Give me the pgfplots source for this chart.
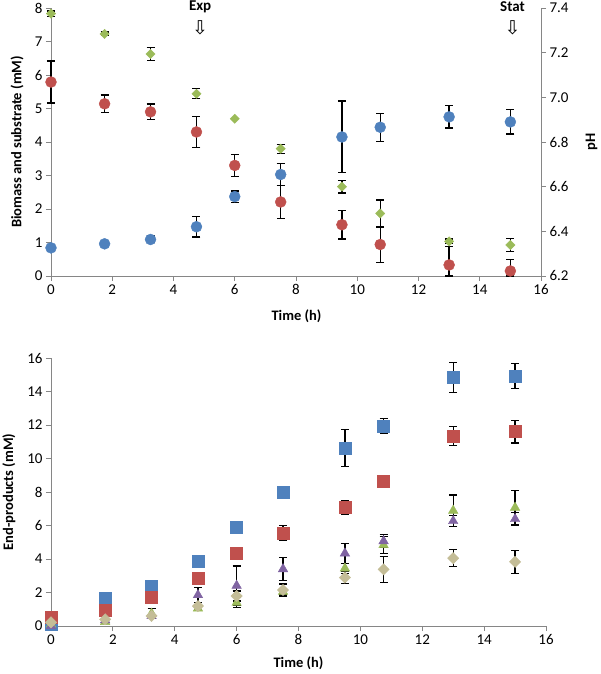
\documentclass[border=0pt]{standalone}
\usepackage{fontspec}
\setmainfont{Carlito}
\newfontfamily\symfont{DejaVu Sans}
\usepackage{pgfplots}
\usepackage{pgfplotstable}
\pgfplotsset{compat=1.18}
\definecolor{axgray}{RGB}{134,134,134}
\definecolor{xblue}{RGB}{79,129,189}
\definecolor{xred}{RGB}{192,80,77}
\definecolor{xgreen}{RGB}{155,187,89}
\definecolor{xpurple}{RGB}{128,100,162}
\definecolor{xtan}{RGB}{196,189,151}
% ---- top panel data (x, y, error plus, error minus) ----
\pgfplotstableread{
x y ep em
0 0.84 0.05 0.05
1.75 0.96 0.05 0.05
3.25 1.09 0.1 0.1
4.75 1.47 0.31 0.31
6 2.37 0.17 0.17
7.5 3.03 0.33 0.33
9.5 4.15 1.07 1.07
10.75 4.44 0.42 0.42
13 4.75 0.33 0.33
15 4.6 0.36 0.36
}\biomass
\pgfplotstableread{
x y ep em
0 5.79 0.63 0.63
1.75 5.14 0.26 0.26
3.25 4.9 0.23 0.23
4.75 4.3 0.47 0.47
6 3.3 0.33 0.33
7.5 2.21 0.49 0.49
9.5 1.53 0.43 0.43
10.75 0.94 0.54 0.54
13 0.33 0.55 0.33
15 0.15 0.35 0.15
}\substrate
\pgfplotstableread{
x y ep em
0 7.375 0.012 0.012
1.75 7.284 0.008 0.008
3.25 7.194 0.03 0.03
4.75 7.016 0.022 0.022
6 6.904 0 0
7.5 6.77 0.02 0.02
9.5 6.6 0.028 0.028
10.75 6.48 0.06 0.06
13 6.355 0.01 0.01
15 6.339 0.03 0.03
}\phdata
% ---- bottom panel data ----
\pgfplotstableread{
x y ep em
0 0.1 0 0
1.75 1.68 0.1 0.1
3.25 2.4 0.1 0.1
4.75 3.87 0.2 0.2
6 5.92 0.2 0.2
7.5 8.0 0.25 0.25
9.5 10.63 1.1 1.1
10.75 11.93 0.44 0.44
13 14.85 0.89 0.89
15 14.93 0.76 0.76
}\prodA
\pgfplotstableread{
x y ep em
0 0.55 0 0
1.75 0.95 0.1 0.1
3.25 1.73 0.38 0.38
4.75 2.84 0.2 0.2
6 4.37 0.2 0.2
7.5 5.55 0.45 0.45
9.5 7.07 0.4 0.4
10.75 8.64 0.1 0.1
13 11.36 0.57 0.57
15 11.6 0.67 0.67
}\prodB
\pgfplotstableread{
x y ep em
0 0.1 0 0
1.75 0.25 0 0
3.25 0.75 0.3 0.3
4.75 1.05 0.1 0.1
6 1.39 0.3 0.3
7.5 2.05 0.2 0.2
9.5 3.44 0.3 0.3
10.75 4.84 0.5 0.5
13 6.89 0.93 0.93
15 7.07 1.0 1.0
}\prodC
\pgfplotstableread{
x y ep em
0 0.0 0 0
1.75 0.35 0 0
3.25 0.6 0 0
4.75 1.85 0.45 0.45
6 2.41 1.17 1.17
7.5 3.4 0.68 0.68
9.5 4.34 0.6 0.6
10.75 5.07 0.4 0.4
13 6.27 0.32 0.32
15 6.39 0.4 0.4
}\prodD
\pgfplotstableread{
x y ep em
0 0.22 0 0
1.75 0.4 0 0
3.25 0.6 0 0
4.75 1.19 0.2 0.2
6 1.79 0.3 0.3
7.5 2.15 0.36 0.36
9.5 2.89 0.35 0.35
10.75 3.38 0.78 0.78
13 4.05 0.5 0.5
15 3.83 0.69 0.69
}\prodE
\pgfplotsset{
  excel/.style={
    scale only axis, clip=false,
    xmin=0, xmax=16, xtick={0,2,...,16},
    axis line style={axgray, line width=0.8pt},
    tick style={axgray, line width=0.8pt},
    major tick length=5pt,
    tick align=outside,
    tick label style={font=\fontsize{15}{17}\selectfont, text=black},
    /pgf/number format/assume math mode=true,
    label style={font=\bfseries\fontsize{14.5}{16}\selectfont},
  },
  ebar/.style={only marks, mark=none, forget plot,
    error bars/.cd, y dir=both, y explicit,
    error bar style={draw=black, line width=1.3pt},
    error mark=|,
    error mark options={draw=black, mark size=4pt, line width=1.3pt}},
}
\newcommand{\series}[4]{%
  \addplot[ebar] table[x=x, y=y, y error plus=ep, y error minus=em] {#1};
  \addplot[only marks, mark=#2, mark size=#3, mark options={#4}] table[x=x, y=y] {#1};
}
\begin{document}
\begin{tikzpicture}
\useasboundingbox (0,0) rectangle (600pt,674pt);
% ---------- top panel, left axis ----------
\begin{axis}[excel,
  at={(51pt,398pt)}, anchor=south west,
  width=490pt, height=268pt,
  axis x line*=bottom, axis y line*=left,
  ymin=0, ymax=8, ytick={0,1,...,8},
  xlabel={Time (h)}, ylabel={Biomass and substrate (mM)},
  xlabel style={at={(axis description cs:0.501,-0.149)}, anchor=center},
  ylabel style={at={(axis description cs:-0.069,0.5)}, anchor=center},
]
\series{\biomass}{*}{5.5pt}{draw=xblue, fill=xblue}
\series{\substrate}{*}{5.5pt}{draw=xred, fill=xred}
\node[font=\bfseries\fontsize{15}{17}\selectfont] at (axis cs:4.87,8.05) {Exp};
\node[font=\symfont\fontsize{19}{21}\selectfont] at (axis cs:4.87,7.4) {⇩};
\node[font=\bfseries\fontsize{15}{17}\selectfont] at (axis cs:15.07,8.05) {Stat};
\node[font=\symfont\fontsize{19}{21}\selectfont] at (axis cs:15.07,7.4) {⇩};
\end{axis}
% ---------- top panel, right (pH) axis ----------
\begin{axis}[excel,
  at={(51pt,398pt)}, anchor=south west,
  width=490pt, height=268pt,
  axis x line=none, axis y line*=right,
  ymin=6.2, ymax=7.4, ytick={6.2,6.4,6.6,6.8,7.0,7.2,7.4},
  yticklabel style={/pgf/number format/.cd, fixed, fixed zerofill, precision=1},
  ylabel={pH},
  ylabel style={at={(axis description cs:1.103,0.5)}, anchor=center},
]
\series{\phdata}{square*}{3.3pt}{rotate=45, draw=xgreen, fill=xgreen}
\end{axis}
% ---------- bottom panel ----------
\begin{axis}[excel,
  at={(51pt,48pt)}, anchor=south west,
  width=495pt, height=268pt,
  axis x line*=bottom, axis y line*=left,
  ymin=0, ymax=16, ytick={0,2,...,16},
  xlabel={Time (h)}, ylabel={End-products (mM)},
  xlabel style={at={(axis description cs:0.5,-0.138)}, anchor=center},
  ylabel style={at={(axis description cs:-0.085,0.5)}, anchor=center},
]
\series{\prodA}{square*}{6pt}{draw=xblue, fill=xblue}
\series{\prodB}{square*}{6pt}{draw=xred, fill=xred}
\series{\prodC}{triangle*}{5.5pt}{draw=xgreen, fill=xgreen}
\series{\prodD}{triangle*}{5.5pt}{draw=xpurple, fill=xpurple}
\series{\prodE}{square*}{4pt}{rotate=45, draw=xtan, fill=xtan}
\end{axis}
\end{tikzpicture}
\end{document}
